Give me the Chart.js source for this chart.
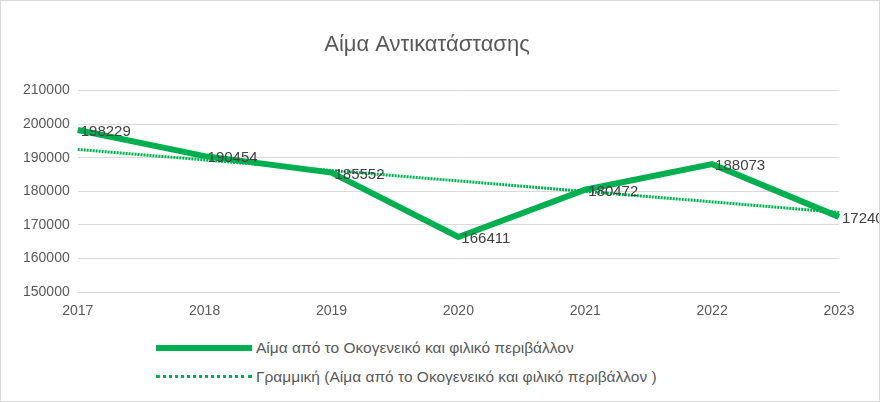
<!DOCTYPE html>
<html>
<head>
<meta charset="utf-8">
<script src="https://cdn.jsdelivr.net/npm/chart.js@4"></script>
<style>
  body { margin: 0; background: #fff; font-family: "Liberation Sans", sans-serif; }
  #wrap { position: relative; width: 878px; height: 400px; border: 1px solid #d9d9d9; }
  #legend { position: absolute; left: 155px; top: 332px; font-size: 15.5px; color: #595959; }
  .item { display: flex; align-items: center; height: 29px; }
  .sw { width: 96px; margin-right: 4px; }
</style>
</head>
<body>
<div id="wrap">
  <canvas id="myChart" width="878" height="330"></canvas>
  <div id="legend">
    <div class="item"><div class="sw" style="border-top:6px solid #00B050"></div>Αίμα από το Οκογενεικό και φιλικό περιβάλλον</div>
    <div class="item"><div class="sw" style="border-top:3px dotted #00B050"></div>Γραμμική (Αίμα από το Οκογενεικό και φιλικό περιβάλλον )</div>
  </div>
</div>
<script>
const years = ['2017', '2018', '2019', '2020', '2021', '2022', '2023'];
const bloodValues = [198229, 190454, 185552, 166411, 180472, 188073, 172400];
const trendValues = [192440, 189320, 186200, 183080, 179970, 176850, 173730];

// Etiquetas de valores ao lado dos pontos
const labelPlugin = {
    id: 'valueLabels',
    afterDatasetsDraw(chart) {
        const ctx = chart.ctx;
        const meta = chart.getDatasetMeta(0);
        ctx.save();
        ctx.font = '15px "Liberation Sans", sans-serif';
        ctx.fillStyle = '#404040';
        ctx.textBaseline = 'middle';
        meta.data.forEach((pt, i) => {
            ctx.fillText(bloodValues[i], pt.x + 3, pt.y + 2);
        });
        ctx.restore();
    }
};

const ctx = document.getElementById('myChart').getContext('2d');
new Chart(ctx, {
    type: 'line',
    data: {
        labels: years,
        datasets: [{
            label: 'Αίμα από το Οκογενεικό και φιλικό περιβάλλον',
            data: bloodValues,
            borderColor: '#00B050',
            borderWidth: 6,
            pointRadius: 0,
            tension: 0
        }, {
            label: 'Γραμμική (Αίμα από το Οκογενεικό και φιλικό περιβάλλον )',
            data: trendValues,
            borderColor: '#00B050',
            borderWidth: 3,
            borderDash: [2, 1],
            pointRadius: 0,
            tension: 0
        }]
    },
    options: {
        responsive: false,
        animation: false,
        layout: { padding: { left: 14, right: 40, top: 0, bottom: 8 } },
        plugins: {
            legend: { display: false },
            tooltip: { enabled: false },
            title: {
                display: true,
                text: 'Αίμα Αντικατάστασης',
                color: '#595959',
                font: { size: 22, family: '"Liberation Sans", sans-serif', weight: 'normal' },
                padding: { top: 31, bottom: 32 }
            }
        },
        scales: {
            x: {
                offset: false,
                grid: { display: false },
                border: { color: '#d9d9d9' },
                ticks: { color: '#595959', font: { size: 14, family: '"Liberation Sans", sans-serif' }, maxRotation: 0 }
            },
            y: {
                min: 150000,
                max: 210000,
                grid: { color: '#d9d9d9', drawTicks: false },
                border: { display: false },
                ticks: {
                    stepSize: 10000, padding: 8, color: '#595959',
                    font: { size: 14, family: '"Liberation Sans", sans-serif' },
                    callback: v => String(v)
                }
            }
        }
    },
    plugins: [labelPlugin]
});
</script>
</body>
</html>
